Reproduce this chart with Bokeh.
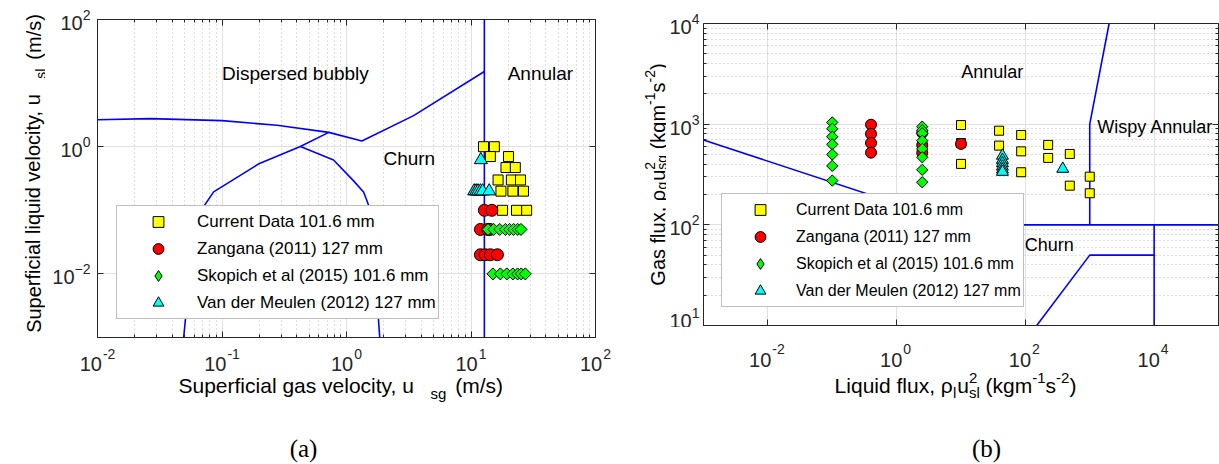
import math
from bokeh.plotting import figure
from bokeh.models import (FixedTicker, LogAxis, CustomJSTickFormatter, Legend, LegendItem,
                          ColumnDataSource, Range1d)
from bokeh.layouts import row, column
from bokeh.embed import file_html
from bokeh.resources import INLINE
from bokeh.core.properties import value

FONT = "Liberation Sans"
SERIF = "Liberation Serif"
DARK = "#262626"

# ---------------- panel (a) data: superficial velocities ----------------
a_cur_usg = [12.6, 15.4, 14.3, 20.0, 19.1, 22.7, 16.5, 21.1, 25.0, 17.4, 21.7, 26.4, 17.9, 23.2, 28.0]
a_cur_usl = [1.0, 1.0, 0.70, 0.70, 0.47, 0.47, 0.30, 0.30, 0.30, 0.20, 0.20, 0.20, 0.10, 0.10, 0.10]
a_zan_usg = [12.8, 14.7, 11.9, 13.6, 14.2, 11.9, 13.0, 14.3, 16.3]
a_zan_usl = [0.10, 0.10, 0.05, 0.05, 0.05, 0.02, 0.02, 0.02, 0.02]
a_sko_usg = [13.7, 15.2, 17.0, 18.9, 20.4, 22.0, 23.7, 25.2, 15.0, 17.2, 19.4, 21.7, 23.7, 25.3, 27.3]
a_sko_usl = [0.05] * 8 + [0.01] * 7
a_vdm_usg = [12.0, 10.6, 11.0, 11.4, 11.9, 12.4, 14.0]
a_vdm_usl = [0.62, 0.20, 0.20, 0.20, 0.20, 0.20, 0.20]

# transition boundaries of panel (a)
a_bubbly_x = [0.01, 0.0266, 0.1, 0.277, 0.72, 1.33, 3.46, 12.8]
a_bubbly_y = [2.66, 2.76, 2.57, 2.17, 1.68, 1.23, 3.08, 15.2]
a_slugL_x = [0.0492, 0.0507, 0.059, 0.0857, 0.2, 0.426, 0.72]
a_slugL_y = [0.001, 0.0018, 0.0667, 0.195, 0.546, 1.01, 1.68]
a_slugR_x = [0.426, 0.787, 1.14, 1.37, 1.46, 1.70, 1.81, 1.85]
a_slugR_y = [1.01, 0.617, 0.29, 0.194, 0.141, 0.0607, 0.0018, 0.001]
a_annular_x = [12.8, 12.8]
a_annular_y = [0.001, 100.0]

a_region_text = ["Dispersed bubbly", "Annular", "Churn"]
a_region_x = [0.1, 19.7, 1.98]
a_region_y = [14.3, 14.3, 0.655]

a_xticks = [0.01, 0.1, 1, 10, 100]
a_yticks = [0.01, 1, 100]

# ---------------- panel (b) data: momentum fluxes ----------------
b_cur_liq = [10, 10, 10, 39, 39, 39, 86, 86, 86, 226, 226, 490, 490, 1000, 1000]
b_cur_gas = [980, 650, 403, 861, 612, 174, 781, 537, 333, 622, 462, 506, 245, 301, 206]
b_zan_liq = [0.4, 0.4, 0.4, 0.4, 10, 2.5, 2.5, 2.5]
b_zan_gas = [988, 800, 650, 521, 637, 820, 620, 520]
b_sko_liq = [0.1] * 7 + [2.5] * 8
b_sko_gas = [1040, 900, 750, 630, 500, 385, 275, 944, 870, 811, 685, 568, 469, 352, 265]
b_vdm_liq = [44, 44, 44, 44, 44, 44, 381]
b_vdm_gas = [486, 441, 409, 379, 354, 336, 360]

b_l1_x = [0.001, 10, 1e5]
b_l1_y = [697, 100, 100]
b_l2_x = [1000, 1000, 2000]
b_l2_y = [100, 1000, 1e4]
b_l3_x = [1e4, 1e4]
b_l3_y = [100, 10]
b_l4_x = [150, 1000, 1e4]
b_l4_y = [10, 50, 50]

b_region_text = ["Annular", "Wispy Annular", "Churn"]
b_region_x = [10.1, 1303, 98]
b_region_y = [3317, 944, 62.4]

b_xticks = [0.01, 1, 100, 1e4]
b_yticks = [10, 100, 1000, 1e4]

legend_labels = ["Current Data 101.6 mm", "Zangana (2011) 127 mm",
                 "Skopich et al (2015) 101.6 mm", "Van der Meulen (2012) 127 mm"]

# axis titles as pieces: (text, font px, baseline shift (+ = down), gap after, advances)
a_xtitle = [("Superficial gas velocity, u", 21, 0, 15, True), ("sg", 15, 8, 9, True),
            ("(m/s)", 21, 0, 0, True)]
a_ytitle = [("Superficial liquid velocity, u", 20, 0, 14, True), ("sl", 14, 7, 9, True),
            ("(m/s)", 20, 0, 0, True)]
b_xtitle = [("Liquid flux,", 21, 0, 5.8, True), ("ρ", 21, 0, 0, True), ("l", 15, 7, 1, True),
            ("u", 21, 0, 0, True), ("2", 15, -8, 0, False), ("sl", 15, 7, 5.8, True),
            ("(kgm", 21, 0, 0, True), ("-1", 15, -8, 0, True), ("s", 21, 0, 0, True),
            ("-2", 15, -8, 0, True), (")", 21, 0, 0, True)]
b_ytitle = [("Gas flux,", 20, 0, 5.6, True), ("ρ", 20, 0, 0, True), ("g", 14, 4, 1, True),
            ("u", 20, 0, 0, True), ("2", 14, -8, 0, False), ("sg", 14, 4, 5.6, True),
            ("(kgm", 20, 0, 0, True), ("-1", 14, -8, 0, True), ("s", 20, 0, 0, True),
            ("-2", 14, -8, 0, True), (")", 20, 0, 0, True)]

# character widths (em, Arial metrics) used to lay the title pieces side by side
CW = {' ': .278, '(': .333, ')': .333, ',': .278, '.': .278, '/': .278, '-': .333,
      'A': .667, 'C': .722, 'D': .722, 'G': .778, 'L': .556, 'M': .833, 'S': .667,
      'a': .556, 'b': .556, 'c': .5, 'd': .556, 'e': .556, 'f': .278, 'g': .556, 'h': .556,
      'i': .222, 'k': .5, 'l': .222, 'm': .833, 'n': .556, 'o': .556, 'p': .556, 'q': .556,
      'r': .333, 's': .5, 't': .278, 'u': .556, 'v': .5, 'x': .5, 'y': .5, 'ρ': .577}


def tw(s, fs):
    return sum(CW.get(c, .556) for c in s) * fs


def total_w(segs):
    return sum(tw(t, fs) + gap for t, fs, sh, gap, adv in segs if adv)


def layout_segs(segs, start, base, rotated):
    xs, ys, texts, sizes, angles = [], [], [], [], []
    cur = start
    for t, fs, sh, gap, adv in segs:
        if rotated:
            xs.append(base + sh); ys.append(cur); angles.append(math.pi / 2)
        else:
            xs.append(cur); ys.append(base + sh); angles.append(0.0)
        texts.append(t)
        sizes.append(f"{fs}px")
        if adv:
            step = tw(t, fs) + gap
            cur = cur - step if rotated else cur + step
    return dict(x=xs, y=ys, text=texts, fs=sizes, angle=angles)


def tick_label_segs(ticks, x_of, base_y, expo_y, fs=20, efs=14):
    """'10' with a raised exponent, centred under each tick position."""
    xs, ys, texts, sizes, angles = [], [], [], [], []
    for v in ticks:
        ex = str(int(round(math.log10(v))))
        w = tw("10", fs) + 1 + tw(ex, efs)
        x0 = x_of(v) - w / 2
        xs += [x0, x0 + tw("10", fs) + 1]
        ys += [base_y, expo_y]
        texts += ["10", ex]
        sizes += [f"{fs}px", f"{efs}px"]
        angles += [0.0, 0.0]
    return dict(x=xs, y=ys, text=texts, fs=sizes, angle=angles)


def no_align(f):
    if "frame_align" in f.properties():
        f.frame_align = False


def label_fig(w, h):
    f = figure(width=w, height=h, x_range=Range1d(0, w), y_range=Range1d(h, 0),
               output_backend="svg", toolbar_location=None, min_border=0,
               x_axis_location=None, y_axis_location=None)
    f.title.visible = False
    f.grid.visible = False
    f.outline_line_color = None
    f.background_fill_color = "white"
    f.border_fill_color = "white"
    no_align(f)
    return f


def put_segs(f, d, font=FONT, color="black"):
    src = ColumnDataSource(d)
    f.text(x="x", y="y", text="text", angle="angle", source=src, text_font=value(font),
           text_font_size="fs", text_color=color, text_align="left",
           text_baseline="alphabetic")


def decade_minors(lo, hi):
    out = []
    for e in range(lo, hi):
        for m in range(2, 10):
            out.append(m * 10.0 ** e)
    return out


BLANK = CustomJSTickFormatter(code="return ''")


def style(p, xt, yt, xgrid_minor, ygrid_minor, ystand):
    no_align(p)
    p.title.visible = False
    p.outline_line_color = DARK
    p.outline_line_width = 1
    p.background_fill_color = "white"
    p.border_fill_color = "white"
    for ax in (p.xaxis[0], p.yaxis[0]):
        ax.axis_line_color = DARK
        ax.major_tick_in = 6
        ax.major_tick_out = 0
        ax.minor_tick_in = 3
        ax.minor_tick_out = 0
        ax.major_tick_line_color = DARK
        ax.minor_tick_line_color = DARK
        ax.major_label_text_font = FONT
        ax.major_label_text_font_size = "20px"
        ax.major_label_text_color = DARK
    p.xaxis[0].ticker = xt
    p.yaxis[0].ticker = yt
    # x tick labels are written in the strip below (MATLAB-like placement)
    p.xaxis[0].formatter = BLANK
    p.xaxis[0].major_label_text_font_size = "1px"
    p.xaxis[0].major_label_standoff = 0
    p.yaxis[0].major_label_standoff = ystand
    p.xgrid[0].ticker = xt
    p.ygrid[0].ticker = yt
    for g, minor in ((p.xgrid[0], xgrid_minor), (p.ygrid[0], ygrid_minor)):
        g.grid_line_color = "#e0e0e0"
        g.grid_line_width = 1
        if minor:
            g.minor_grid_line_color = "#bdbdbd"
            g.minor_grid_line_dash = "1 3"
        else:
            g.minor_grid_line_color = None
    for side, t in (("above", xt), ("right", yt)):
        ax = LogAxis(ticker=t, formatter=BLANK, axis_line_color=None,
                     major_tick_in=6, major_tick_out=0, minor_tick_in=3, minor_tick_out=0,
                     major_tick_line_color=DARK, minor_tick_line_color=DARK,
                     major_label_standoff=0, major_label_text_font_size="1px")
        p.add_layout(ax, side)


def scatter_sets(p, sets, size_sq, size_ci, size_di, size_tr):
    (cx, cy), (zx, zy), (sx, sy), (vx, vy) = sets
    r_sq = p.scatter(cx, cy, marker="square", size=size_sq, fill_color="#FFFF00",
                     line_color="black", line_width=1)
    r_ci = p.scatter(zx, zy, marker="circle", size=size_ci, fill_color="#FF0000",
                     line_color="black", line_width=1)
    # legend swatch for the diamonds (sits hidden under the first diamond)
    r_dl = p.scatter(sx[:1], sy[:1], marker="diamond", size=size_di * 1.3,
                     fill_color="#00FF00", line_color="black", line_width=1)
    p.scatter(sx, sy, marker="square", angle=math.pi / 4, size=size_di,
              fill_color="#00FF00", line_color="black", line_width=1)
    r_tr = p.scatter(vx, vy, marker="triangle", size=size_tr, fill_color="#00FFFF",
                     line_color="black", line_width=1)
    return [r_sq, r_ci, r_dl, r_tr]


def add_legend(p, rs, loc, fs, gw):
    items = [LegendItem(label=l, renderers=[r]) for l, r in zip(legend_labels, rs)]
    lg = Legend(items=items, location=loc, orientation="vertical",
                label_text_font=FONT, label_text_font_size=fs, label_text_color="black",
                glyph_width=gw, glyph_height=27, label_height=27, label_standoff=0,
                padding=2, spacing=-5, margin=0,
                border_line_color="#808080", border_line_width=1.2,
                background_fill_color="white", background_fill_alpha=1.0)
    p.add_layout(lg)


# ===================== panel (a) =====================
YA_W = 45
A_XLO, A_XHI, A_YLO, A_YHI = 0.01, 100, 0.001, 100
A_BL, A_FW, A_BR = 97 - YA_W, 498, 25
A_BT, A_FH, A_BB = 19, 318, 2
TOP_A = A_BT + A_FH + A_BB
pa = figure(frame_width=A_FW, frame_height=A_FH, x_axis_type="log", y_axis_type="log",
            x_range=Range1d(A_XLO, A_XHI), y_range=Range1d(A_YLO, A_YHI),
            output_backend="svg", toolbar_location=None,
            min_border_left=A_BL, min_border_right=A_BR,
            min_border_top=A_BT, min_border_bottom=A_BB)
style(pa,
      FixedTicker(ticks=a_xticks, minor_ticks=decade_minors(-2, 2)),
      FixedTicker(ticks=a_yticks, minor_ticks=[]),
      True, False, 7)

for xs, ys in ((a_bubbly_x, a_bubbly_y), (a_slugL_x, a_slugL_y),
               (a_slugR_x, a_slugR_y), (a_annular_x, a_annular_y)):
    pa.line(xs, ys, line_color="#0000FF", line_width=1.6)

pa.text(x=a_region_x, y=a_region_y, text=a_region_text, text_font=value(FONT),
        text_font_size=value("19px"), text_color="black", text_align="left",
        text_baseline="middle")

ra = scatter_sets(pa, [(a_cur_usg, a_cur_usl), (a_zan_usg, a_zan_usl),
                       (a_sko_usg, a_sko_usl), (a_vdm_usg, a_vdm_usl)], 10, 12, 8.5, 13)
add_legend(pa, ra, (19, 18), "17px", 78)

ya = label_fig(YA_W, TOP_A)
put_segs(ya, layout_segs(a_ytitle, 173 + total_w(a_ytitle) / 2, 33, True))

LEFT_W = YA_W + A_BL + A_FW + A_BR
A_FRAME_X0 = YA_W + A_BL


def a_x_of(v):
    f = (math.log10(v) - math.log10(A_XLO)) / (math.log10(A_XHI) - math.log10(A_XLO))
    return A_FRAME_X0 + f * A_FW


bot_a = label_fig(LEFT_W, 464 - TOP_A)
put_segs(bot_a, tick_label_segs(a_xticks, a_x_of, 363 - TOP_A, 353 - TOP_A), color=DARK)
put_segs(bot_a, layout_segs(a_xtitle, 178, 385 - TOP_A, False))
bot_a.text(x=[303], y=[448 - TOP_A], text=["(a)"], text_font=value(SERIF),
           text_font_size=value("25px"), text_color="black", text_align="center",
           text_baseline="alphabetic")

# ===================== panel (b) =====================
YB_W = 46
B_XLO, B_XHI, B_YLO, B_YHI = 0.001, 1e5, 10, 1e4
B_X0 = LEFT_W + YB_W
B_BL, B_FW, B_BR = 702 - B_X0, 515, 2
B_BT, B_FH, B_BB = 23, 302, 2
TOP_B = B_BT + B_FH + B_BB
pb = figure(frame_width=B_FW, frame_height=B_FH, x_axis_type="log", y_axis_type="log",
            x_range=Range1d(B_XLO, B_XHI), y_range=Range1d(B_YLO, B_YHI),
            output_backend="svg", toolbar_location=None,
            min_border_left=B_BL, min_border_right=B_BR,
            min_border_top=B_BT, min_border_bottom=B_BB)
style(pb,
      FixedTicker(ticks=b_xticks, minor_ticks=[]),
      FixedTicker(ticks=b_yticks, minor_ticks=decade_minors(1, 4)),
      False, True, 4)

for xs, ys in ((b_l1_x, b_l1_y), (b_l2_x, b_l2_y), (b_l3_x, b_l3_y), (b_l4_x, b_l4_y)):
    pb.line(xs, ys, line_color="#0000FF", line_width=1.6)

pb.text(x=b_region_x, y=b_region_y, text=b_region_text, text_font=value(FONT),
        text_font_size=value("18px"), text_color="black", text_align="left",
        text_baseline="middle")

rb = scatter_sets(pb, [(b_cur_liq, b_cur_gas), (b_zan_liq, b_zan_gas),
                       (b_sko_liq, b_sko_gas), (b_vdm_liq, b_vdm_gas)], 9, 11, 8, 12)
add_legend(pb, rb, (18, 18), "16px", 72)

yb = label_fig(YB_W, TOP_B)
put_segs(yb, layout_segs(b_ytitle, 174 + total_w(b_ytitle) / 2, 657 - LEFT_W, True))

RIGHT_W = 1219 - LEFT_W
B_FRAME_X0 = YB_W + B_BL


def b_x_of(v):
    f = (math.log10(v) - math.log10(B_XLO)) / (math.log10(B_XHI) - math.log10(B_XLO))
    return B_FRAME_X0 + f * B_FW


bot_b = label_fig(RIGHT_W - 2, 464 - TOP_B)
put_segs(bot_b, tick_label_segs(b_xticks, b_x_of, 359 - TOP_B, 348 - TOP_B), color=DARK)
put_segs(bot_b, layout_segs(b_xtitle, 955 - total_w(b_xtitle) / 2 - LEFT_W, 385 - TOP_B, False))
bot_b.text(x=[986 - LEFT_W], y=[448 - TOP_B], text=["(b)"], text_font=value(SERIF),
           text_font_size=value("25px"), text_color="black", text_align="center",
           text_baseline="alphabetic")

left_col = column(row(ya, pa, spacing=0), bot_a, spacing=0)
right_col = column(row(yb, pb, spacing=0), bot_b, spacing=0)
layout = row(left_col, right_col, spacing=0)
open("out.html", "w").write(file_html(layout, INLINE))
